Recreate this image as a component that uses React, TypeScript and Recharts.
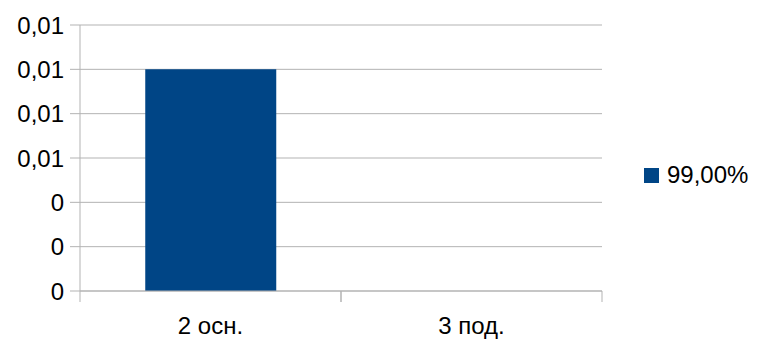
import React from 'react';
import { BarChart, Bar, XAxis, YAxis, CartesianGrid } from 'recharts';

const categories = ['2 осн.', '3 под.'];
const seriesName = '99,00%';
const seriesValues = [0.01, 0];
const yTicks = [0, 0.002, 0.004, 0.006, 0.008, 0.01, 0.012];

const chartData = categories.map((name, i) => ({ name, value: seriesValues[i] }));

const FONT = '"Liberation Sans", Arial, sans-serif';
const GRID = '#b3b3b3';
const BAR = '#004586';

// two decimals, comma separator, plain 0 when it rounds away
const fmt = (v: number) => {
  const s = v.toFixed(2);
  return Number(s) === 0 ? '0' : s.replace('.', ',');
};

// category tick: label in the middle, tick marks on the band edges
const XTick = (props: any) => {
  const { x, y, payload } = props;
  const half = payload && payload.offset ? payload.offset : 130.5;
  return (
    <g>
      <line x1={x - half} y1={y} x2={x - half} y2={y + 11} stroke={GRID} />
      <line x1={x + half} y1={y} x2={x + half} y2={y + 11} stroke={GRID} />
      <text x={x} y={y + 43} textAnchor="middle" fontSize={24} fontFamily={FONT} fill="#000">
        {payload.value}
      </text>
    </g>
  );
};

export default function App() {
  return (
    <div style={{ position: 'absolute', left: 0, top: 0, width: 757, height: 340, background: '#fff' }}>
      <BarChart
        width={757}
        height={340}
        data={chartData}
        margin={{ top: 25, right: 155, left: 0, bottom: 0 }}
        barCategoryGap="25%"
      >
        <CartesianGrid yAxisId="left" vertical={false} stroke={GRID} />
        <XAxis
          dataKey="name"
          height={49}
          tickSize={0}
          tickMargin={0}
          tickLine={false}
          axisLine={{ stroke: GRID }}
          tick={<XTick />}
          interval={0}
        />
        <YAxis
          yAxisId="left"
          width={80}
          domain={[0, 0.012]}
          ticks={yTicks}
          tickFormatter={fmt}
          tickSize={10}
          tickMargin={6}
          tickLine={{ stroke: GRID }}
          axisLine={{ stroke: GRID }}
          tick={{ fontSize: 24, fontFamily: FONT, fill: '#000' }}
          interval={0}
        />
        <YAxis
          yAxisId="right"
          orientation="right"
          width={0}
          domain={[0, 0.012]}
          tick={false}
          tickLine={false}
          axisLine={{ stroke: GRID }}
        />
        <Bar yAxisId="left" dataKey="value" name={seriesName} fill={BAR} isAnimationActive={false} />
      </BarChart>
      <div
        style={{
          position: 'absolute',
          left: 644,
          top: 161,
          display: 'flex',
          alignItems: 'center',
          fontFamily: FONT,
          fontSize: 24,
          color: '#000',
        }}
      >
        <span style={{ display: 'inline-block', width: 15, height: 15, background: BAR, marginRight: 8 }} />
        <span>{seriesName}</span>
      </div>
    </div>
  );
}
